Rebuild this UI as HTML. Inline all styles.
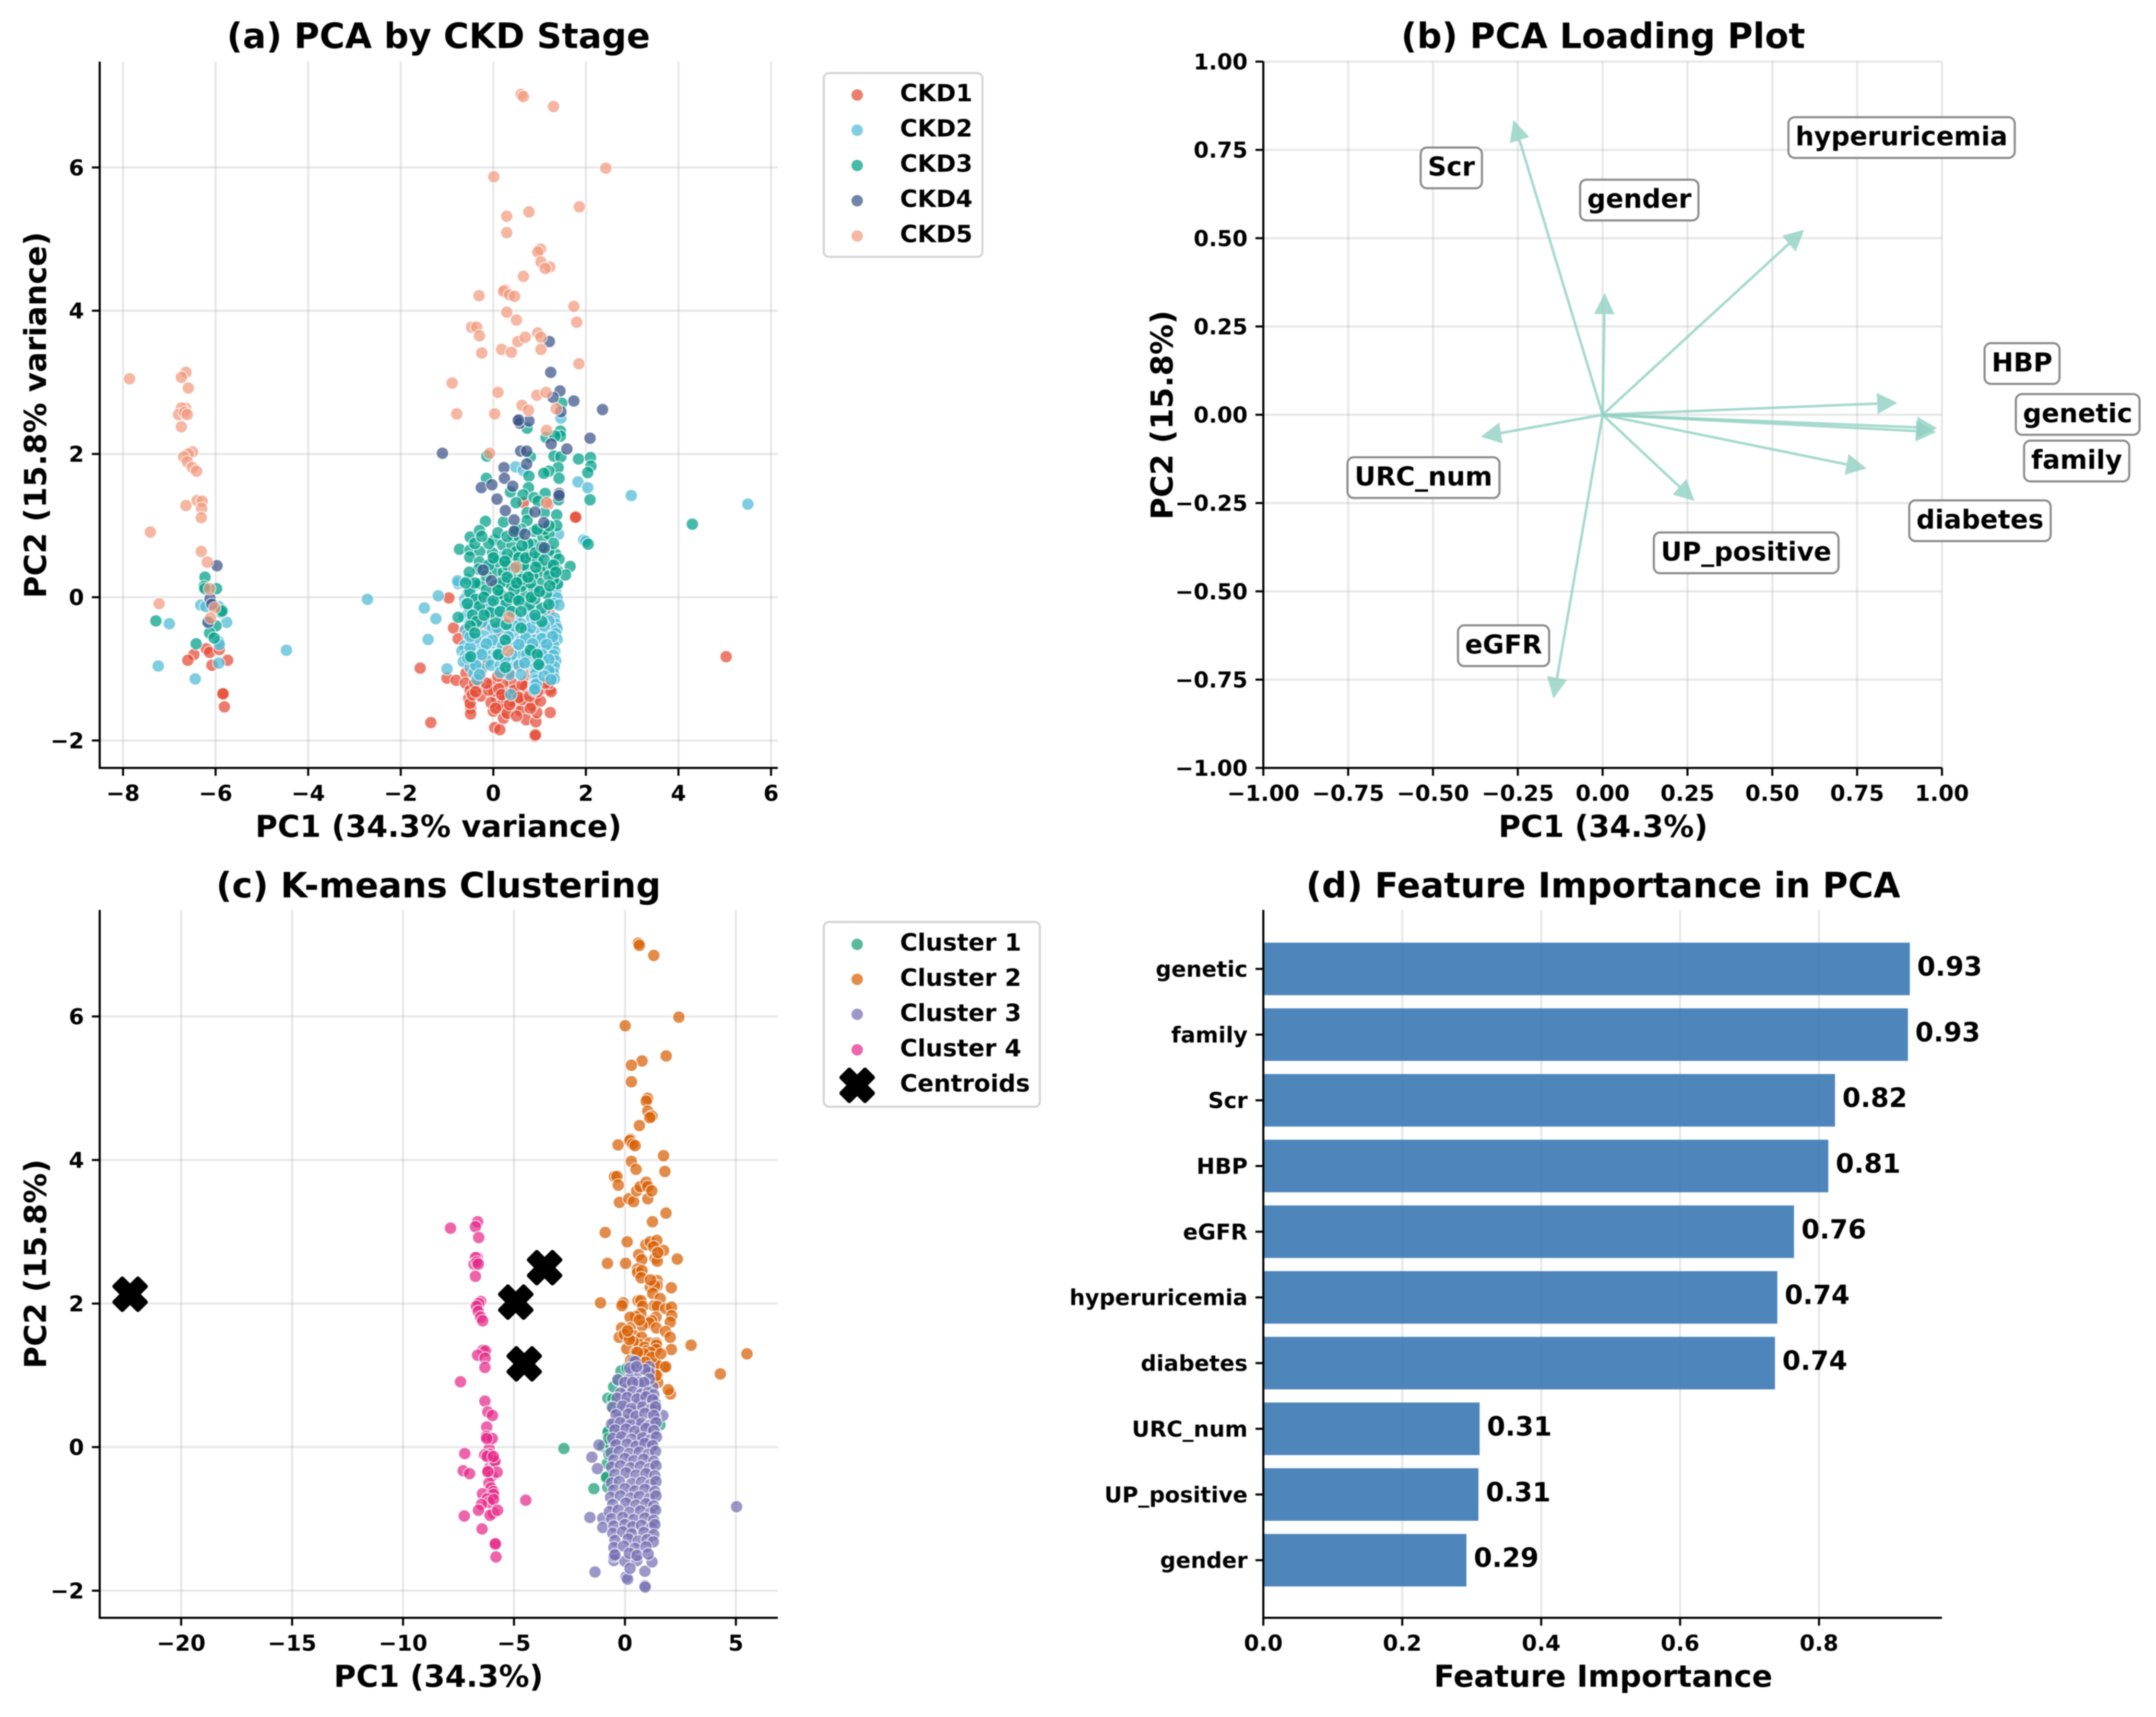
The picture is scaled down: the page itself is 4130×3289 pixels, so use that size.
<!DOCTYPE html>
<html lang="en">
<head>
<meta charset="utf-8">
<title>PCA analysis of CKD</title>
<style>
html,body{margin:0;padding:0;background:#fff;}
svg{display:block;filter:blur(1px);}
text{font-family:"DejaVu Sans","Liberation Sans",sans-serif;font-weight:700;fill:#000;}
.title{font-size:66.5px;text-anchor:middle;}
.axis-label{font-size:58.2px;text-anchor:middle;}
.tick{font-size:42px;}
.legend-text{font-size:45.8px;}
.legend-box{fill:#fff;stroke:#d4d4d4;stroke-width:4;}
.value{font-size:50.5px;}
.anno{font-size:50px;text-anchor:middle;}
</style>
</head>
<body>
<svg id="fig" xmlns="http://www.w3.org/2000/svg" width="4130" height="3289" viewBox="0 0 4130 3289">
<rect width="4130" height="3289" fill="#fff"/>
<g id="panelA"></g>
<g id="panelB"></g>
<g id="panelC"></g>
<g id="panelD"></g>

<text class="title" x="840" y="92">(a) PCA by CKD Stage</text>
<text class="axis-label" x="840" y="1603">PC1 (34.3% variance)</text>
<text class="axis-label" transform="translate(88,795) rotate(-90)">PC2 (15.8% variance)</text>

<text class="title" x="3071" y="92">(b) PCA Loading Plot</text>
<text class="axis-label" x="3071" y="1603">PC1 (34.3%)</text>
<text class="axis-label" transform="translate(2246,795) rotate(-90)">PC2 (15.8%)</text>

<text class="title" x="840" y="1719">(c) K-means Clustering</text>
<text class="axis-label" x="840" y="3231">PC1 (34.3%)</text>
<text class="axis-label" transform="translate(88,2421) rotate(-90)">PC2 (15.8%)</text>

<text class="title" x="3071" y="1719">(d) Feature Importance in PCA</text>
<text class="axis-label" x="3071" y="3231">Feature Importance</text>

<g>
<rect class="legend-box" x="1578" y="140" width="304" height="352" rx="10"/>
<g><circle cx="1642" cy="182" r="11" fill="#E64B35" opacity=".72"/><text class="legend-text" x="1724" y="194">CKD1</text></g>
<g><circle cx="1642" cy="249.500" r="11" fill="#4DBBD5" opacity=".72"/><text class="legend-text" x="1724" y="261.500">CKD2</text></g>
<g><circle cx="1642" cy="317" r="11" fill="#00A087" opacity=".72"/><text class="legend-text" x="1724" y="329">CKD3</text></g>
<g><circle cx="1642" cy="384.500" r="11" fill="#3C5488" opacity=".72"/><text class="legend-text" x="1724" y="396.500">CKD4</text></g>
<g><circle cx="1642" cy="452" r="11" fill="#F39B7F" opacity=".72"/><text class="legend-text" x="1724" y="464">CKD5</text></g>
</g>

<g>
<rect class="legend-box" x="1578" y="1766" width="414" height="354" rx="10"/>
<g><circle cx="1642" cy="1809" r="11" fill="#1B9E77" opacity=".72"/><text class="legend-text" x="1724" y="1821">Cluster 1</text></g>
<g><circle cx="1642" cy="1876" r="11" fill="#D95F02" opacity=".72"/><text class="legend-text" x="1724" y="1888.500">Cluster 2</text></g>
<g><circle cx="1642" cy="1943" r="11" fill="#7570B3" opacity=".72"/><text class="legend-text" x="1724" y="1956">Cluster 3</text></g>
<g><circle cx="1642" cy="2011" r="11" fill="#E7298A" opacity=".72"/><text class="legend-text" x="1724" y="2023.500">Cluster 4</text></g>
<g><polygon transform="translate(1642,2079)" points="-15,-30 0,-15 15,-30 30,-15 15,0 30,15 15,30 0,15 -15,30 -30,15 -15,0 -30,-15" fill="#000" stroke="#000" stroke-width="8" stroke-linejoin="round"/><text class="legend-text" x="1724" y="2091">Centroids</text></g>
</g>
</svg>

<script>
// ---------- Panel (a): PCA scores by CKD stage ----------
const aXTicks = [-8,-6,-4,-2,0,2,4,6];
const aYTicks = [-2,0,2,4,6];
const ckd1Points = [[-6.2,-.72],[-6.13,-.77],[-6.47,-.8],[-6.6,-.88],[-5.92,-.73],[-6.08,-.95],[-5.74,-.88],[-5.84,-1.34],[-5.84,-1.35],[-5.81,-1.53],
[5.03,-.83],[-.96,-.01],[1.77,1.11],[1.78,1.12],[-.86,-.43],[-.62,-.48],[-.76,-.58],[-1.58,-.99],[-1,-1.13],[-.8,-1.16],[-1.35,-1.75],[-.53,-1.41],[-.49,-1.55],[-.49,-1.63],[-.5,-1.48],[-.27,-1.38],[-.27,-1.06],[-.59,-1.06],[-.04,-1.21],[.07,-1.41],[.02,-1.31],[.2,-1.49],[.24,-1.57],[0,-1.59],[.22,-1.69],[.03,-1.82],[.14,-1.85],[.48,-1.53],[.6,-1.59],[.71,-1.71],[.92,-1.74],[.94,-1.61],[1.23,-1.61],[.9,-1.94],[.91,-1.92],[1.22,-1.29],[.9,-1.41],[.69,-1.41],[.56,-.96],[.56,-1.29],[.39,-1.19],[.2,-1.21],[-.17,-.92],[.73,-1.17],[1.27,-1.09],[.84,-1.51],[-.21,-.38],[.65,1.32],[1.18,1.3],[1.2,-.2],
[-.55,-.9],[-.6,-1.2],[-.5,-1.3],[-.3,-1.25],[-.1,-1.3],[.1,-1.1],[.3,-1.35],[.45,-1.3],[.7,-1.25],[.85,-1.3],[1.05,-1.28],[1.25,-1.32],[1.2,-1.2],[.15,-1.5],[.4,-1.45],[.62,-1.43],[.8,-1.55],[1.02,-1.45],[-.05,-1.47],[.3,-1.62],[.5,-1.66],[-.45,-1.36],[.1,-.5],[.35,-1.05],[.82,-1.05],[-.4,-1.2],[.98,-1.2],[.25,-1.4],[.12,-1.28],[.55,-1.4],[.78,-1.38],[.05,-1.55],[.35,-1.5],[-.38,-1.32],[.62,-1.22],[.95,-1.32],[1.12,-1.2],[-.15,-1.2],[.18,-1.36]];
const ckd2Points = [[-6.32,-.11],[-6.21,-.13],[-5.93,-.13],[-5.76,-.35],[-7,-.37],[-5.93,-.62],[-5.92,-.66],[-4.47,-.74],[-5.93,-.92],[-7.24,-.96],[-6.44,-1.14],[-6.18,-.34],
[-2.72,-.03],[5.5,1.3],[2.98,1.42],[1.83,1.61],[2.04,1.53],[1.95,.8],[2,.78],[.48,1.82],[.65,1.77],[1.46,2.5],[1.41,.88],[-1.19,.02],[-1.49,-.15],[-1.24,-.3],[-1.41,-.59],[-1,-1],[-.76,.19],[-.77,.23],[-.55,.25],[.18,.57],[-.06,.45],
[-.4,.16],[1.3,.14],[1.38,.17],[-.55,.06],[-.2,.03],[1.35,.07],[.95,.05],[-.62,-.03],[-.48,-.01],[-.3,-.02],[.05,-.04],[.55,-.01],[1.25,-.03],[1.38,-.01],
[-.6,-.1],[-.42,-.12],[-.05,-.09],[.2,-.11],[.62,-.1],[.9,-.12],[1.3,-.09],[1.42,-.11],[-.55,-.21],[-.3,-.19],[.02,-.2],[.35,-.22],[.75,-.19],[1.12,-.21],
[-.63,-.28],[-.45,-.3],[-.15,-.27],[.18,-.29],[.5,-.28],[.82,-.3],[1.05,-.27],[1.32,-.29],[-.5,-.36],[-.1,-.38],[.22,-.35],[.6,-.37],[.95,-.36],[1.35,-.38],
[-.6,-.45],[-.35,-.47],[-.02,-.44],[.3,-.46],[.7,-.45],[1,-.47],[1.38,-.44],[1.28,-.46],[-.55,-.52],[-.2,-.54],[.12,-.51],[.42,-.53],[.78,-.52],[1.12,-.54],[1.35,-.51],
[-.45,-.6],[-.1,-.62],[.25,-.59],[.6,-.61],[.9,-.6],[1.22,-.62],[1.38,-.59],[-.62,-.68],[-.3,-.7],[.05,-.67],[.38,-.69],[.68,-.68],[1,-.7],[1.3,-.67],
[-.68,-.75],[-.48,-.77],[-.2,-.74],[.15,-.76],[.5,-.75],[.82,-.77],[1.15,-.74],[1.33,-.76],[-.6,-.82],[-.35,-.84],[-.02,-.81],[.28,-.83],[.62,-.82],[.98,-.84],[1.3,-.81],
[-.65,-.9],[-.45,-.92],[-.12,-.89],[.42,-.91],[.75,-.9],[1.1,-.92],[1.35,-.89],[-.5,-.98],[-.25,-1],[.3,-.97],[.88,-.99],[.92,-.98],[1.28,-1],[1.32,-.97],
[-.42,-1.06],[.35,-1.08],[.9,-1.05],[.92,-1.07],[1.3,-1.06],[-.35,-1.15],[.9,-1.14],[.93,-1.16],[1.32,-1.14],[.88,-1.22],[.9,-1.23],[.93,-1.21],[.88,-1.3],[.9,-1.28],[.38,-1.36],
[-.52,-.15],[-.25,-.35],[.08,-.42],[.45,-.4],[.8,-.43],[1.2,-.33],[-.38,-.57],[-.02,-.6],[.32,-.55],[.7,-.57],[1.05,-.58],[1.28,-.55],[-.5,-.7],[-.15,-.65],[.2,-.68],[.55,-.66],[.85,-.65],[1.15,-.66],[-.55,-.85],[-.25,-.8],[.08,-.8],[.4,-.8],[.72,-.8],[1.05,-.8],[1.2,-.87],[-.38,-.95],[-.05,-.95],[.15,-.95],[.55,-.95],[1,-.95],[1.2,-1.02],[-.3,-1.08],[.15,-1.05],[.6,-1.08],[1.1,-1.1],[1.25,-1.15],[-.5,-.55],[.92,-.3],[.4,-.15],[.85,-.1],[.1,-.2],[-.1,-.15],[1.1,-.4],[.25,-.85],[.68,-.92]];
const ckd3Points = [[-6.23,.28],[-6.25,.15],[-5.98,.12],[-6.23,.12],[-5.88,-.21],[-5.86,-.19],[-5.99,-.4],[-6.13,-.5],[-6.03,-.57],[-6.42,-.65],[-7.29,-.33],[4.3,1.02],
[1.48,2.71],[.73,2.36],[1.45,2.32],[1.45,2.25],[1.14,2.23],[1.33,2.25],[1.31,1.97],[1.46,1.96],[1.84,1.93],[2.1,1.95],[-.14,1.97],[.8,1.96],[1.4,1.81],[1.2,1.76],[1.09,1.73],[2.11,1.83],[2.04,1.74],[.77,1.69],[1.42,1.66],[-.15,1.66],[.76,1.53],[.64,1.43],[1.12,1.45],[.37,1.47],[.49,1.32],[.88,1.39],[.97,1.34],[1.41,1.36],[2.09,1.36],[1.37,1.15],[.73,1.18],[1.1,1.18],[.73,1.07],[.22,1.05],[-.17,1.06],[1.37,1],
[-.73,.67],[-.5,.84],[-.3,.93],[-.5,.66],[-.29,.64],[-.02,.62],[-.51,.56],[-.3,.49],[-.32,.39],[-.52,.35],[.05,.36],[.22,.35],[.02,.8],[.2,.73],[.41,.72],[.43,.86],[.65,.62],[.39,.53],[.5,.64],[.86,.74],[.88,.92],[1.07,.84],[1.2,.88],[1.35,.6],[1.42,.53],[1.39,.37],[1.16,.39],[1.03,.41],[.95,.31],[.73,.39],[.58,.43],[.39,.25],[.24,.21],[.05,.17],[-.29,.19],[-.51,.07],[-.38,-.03],[-.56,-.09],[-.3,-.13],[-.45,-.25],[-.76,-.28],[-.36,-.34],[.05,-.35],[-.06,-.21],[.2,.01],[.39,.17],[.67,.15],[1.03,.19],[1.39,.19],[.88,.11],[.69,.01],[.48,-.03],[.28,-.09],[.77,-.11],[1.05,-.15],[1.05,-.34],[.6,-.43],[.28,-.38],[.11,-.8],[.26,-.6],[.8,-.74],[.95,-.8],[.26,-.98],[.98,-.94],[-.49,-.83],[1.66,.43],[2.05,.74],[1.56,.31],
[.1,.5],[.3,.45],[.55,.3],[.8,.55],[1,.6],[1.2,.65],[1.3,.25],[.85,.3],[.6,.15],[.15,.05],[.45,.1],[.9,-.02],[1.15,.05],[-.1,.45],[-.15,.1],[.75,.75],[1.1,.95],[.55,.85],[.3,.6],[.65,.45],[1.25,.45],[.95,.5],[.15,.2],[.55,.55],[1.3,.75],[1.2,.3],[.8,.2],
[-.1,.75],[.1,.9],[.3,.85],[.6,.95],[.95,.95],[1.2,1],[-.4,.75],[-.15,.3],[0,.55],[.25,.5],[.45,.4],[.7,.55],[.9,.62],[1.1,.52],[1.3,.45],[-.4,.2],[-.2,0],[0,-.05],[.1,.1],[.35,0],[.55,-.05],[.62,.25],[.82,0],[1,.08],[1.22,.16],[1.35,.35],[-.6,.2],[.3,.28],[.75,.28],[.92,.42],[.5,.2],[.15,-.2],[.4,-.2],[.6,-.2],[.9,-.25],[1.2,-.1],[-.2,-.25],[-.5,-.4],[-.4,-.5],[-.25,.85],[1.05,.7],[.62,.72],[.48,.95]];
const ckd4Points = [[-5.97,.44],[-6.12,-.02],[-6.08,-.1],[-6.16,-.35],
[1.21,3.57],[1.24,3.14],[1.44,2.88],[1.29,2.79],[1.74,2.74],[2.36,2.62],[.56,2.48],[.57,2.43],[.77,2.46],[.54,2.47],[1.46,2.59],[2.09,2.22],[1.25,2.14],[1.59,2.07],[-1.1,2.01],[.59,2.04],[.72,2.04],[.72,1.86],[.23,1.81],[.24,1.66],[.42,1.55],[-.26,1.53],[-.03,1.57],[.08,1.37],[1.42,1.45],[1.42,1.42],[.26,1.21],[.9,1.19],[.45,1.08],[1.09,1.04],[.45,.92],[.68,.88],[1.1,.69],[-.22,.38],[-.04,.23]];
const ckd5Points = [[-7.86,3.05],[-6.64,3.14],[-6.74,3.07],[-6.59,2.92],[-6.65,2.64],[-6.74,2.64],[-6.8,2.55],[-6.67,2.58],[-6.61,2.55],[-6.74,2.38],[-6.5,2.03],[-6.59,2],[-6.69,1.96],[-6.61,1.89],[-6.5,1.81],[-6.41,1.76],[-6.4,1.35],[-6.29,1.34],[-6.64,1.28],[-6.3,1.24],[-6.31,1.11],[-7.41,.91],[-6.31,.64],[-6.18,.49],[-6.13,.12],[-7.22,-.09],[-6.02,-.15],[-6.11,-.29],
[.6,7.02],[.65,6.99],[1.3,6.85],[2.43,5.99],[.01,5.87],[1.86,5.45],[.77,5.38],[.29,5.32],[.29,5.09],[1.02,4.86],[.96,4.82],[1.03,4.68],[1.22,4.61],[1.12,4.59],[.65,4.48],[.25,4.29],[.22,4.27],[.35,4.22],[.46,4.2],[-.31,4.21],[1.74,4.06],[.29,3.98],[.5,3.87],[1.8,3.84],
[-.47,3.77],[-.36,3.77],[-.3,3.65],[-.25,3.41],[.18,3.46],[.39,3.42],[.53,3.57],[.69,3.63],[.96,3.69],[1.03,3.63],[1.03,3.46],[1.85,3.26],[-.89,2.99],[.1,2.86],[.94,2.82],[1.14,2.86],[.62,2.68],[.76,2.61],[-.79,2.56],[.03,2.56],[1.36,2.63],[1.15,2.33],[-.08,2.01],[1.15,1.32],[.49,.42],[.34,-.28],[.32,-.75]];

// ---------- Panel (b): loading vectors ----------
const bTicks = [-1,-.75,-.5,-.25,0,.25,.5,.75,1];
const loadingFeatures = ['Scr','hyperuricemia','gender','HBP','genetic','family','diabetes','UP_positive','URC_num','eGFR'];
const loadingPC1 = [-.263,.594,.006,.869,.986,.983,.778,.271,-.359,-.145];
const loadingPC2 = [.835,.524,.345,.034,-.038,-.049,-.152,-.244,-.062,-.804];
const labelPC1 = [-.446,.881,.108,1.236,1.4,1.397,1.112,.423,-.528,-.292];
const labelPC2 = [.699,.785,.608,.145,.001,-.131,-.3,-.391,-.178,-.654];

// ---------- Panel (c): K-means clusters ----------
const cXTicks = [-20,-15,-10,-5,0,5];
const cYTicks = [-2,0,2,4,6];
const cluster1Points = [[-2.75,-.02],[-1.4,-.58],[-.18,1.06],[-.51,.84],[-.77,.68],[-.55,.67],[-.59,.56],[-.78,.19],[-.75,.22],[-.99,.01],[-.86,-.43],[-.77,-.56],[1.58,.31],[-.8,-.23],[-.7,.05],[-.72,-.1],[-.3,.93],[-.73,.12],[-.82,-.42],[.35,1.25],[.1,1.1]];
const cluster2Points = [[.6,7.02],[.65,6.99],[1.3,6.85],[2.43,5.99],[.01,5.87],[1.86,5.45],[.77,5.38],[.29,5.32],[.29,5.09],[1.02,4.86],[.96,4.82],[1.03,4.68],[1.22,4.61],[1.12,4.59],[.65,4.48],[.25,4.29],[.22,4.27],[.35,4.22],[.46,4.2],[-.31,4.21],[1.74,4.06],[.29,3.98],[.5,3.87],[1.8,3.84],[-.47,3.77],[-.36,3.77],[-.3,3.65],[-.25,3.41],[.18,3.46],[.39,3.42],[.53,3.57],[.69,3.63],[.96,3.69],[1.03,3.63],[1.03,3.46],[1.21,3.57],[1.85,3.26],[1.24,3.14],[-.89,2.99],[.1,2.86],[.94,2.82],[1.14,2.86],[1.44,2.88],[1.29,2.79],[1.74,2.74],[.62,2.68],[.76,2.61],[1.36,2.63],[1.46,2.59],[2.36,2.62],[-.79,2.56],[.03,2.56],[.56,2.48],[.57,2.43],[.77,2.46],[1.48,2.71],[.73,2.36],[1.45,2.32],[1.45,2.25],[1.14,2.23],[1.33,2.25],[1.15,2.33],[1.25,2.14],[2.09,2.22],[1.59,2.07],[-1.1,2.01],[-.08,2.01],[-.14,1.97],[.59,2.04],[.72,2.04],[1.31,1.97],[1.46,1.96],[1.84,1.93],[2.1,1.95],[.8,1.96],[.72,1.86],[1.4,1.81],[.48,1.82],[1.2,1.76],[1.09,1.73],[2.11,1.83],[2.04,1.74],[.77,1.69],[1.42,1.66],[.23,1.81],[.24,1.66],[-.15,1.66],[.65,1.77],[.42,1.55],[-.26,1.53],[-.03,1.57],[.76,1.53],[1.83,1.61],[2.04,1.53],[.64,1.43],[1.12,1.45],[.37,1.47],[1.42,1.45],[1.42,1.42],[.08,1.37],[.49,1.32],[.88,1.39],[.97,1.34],[1.41,1.36],[2.09,1.36],[1.15,1.32],[.26,1.21],[1.77,1.11],[1.37,1.15],[.73,1.18],[1.1,1.18],[.9,1.19],[1.44,1.15],[2.98,1.42],[5.5,1.3],[4.3,1.02],[2.05,.74],[1.95,.8],[1.46,1],[1.48,.9],[1.09,1.04],[.85,1.3],[1.21,1.25],[.93,1.18],[.56,1.32],[1.4,1],[1.84,1.12],[1.62,1.3],[.2,1.5],[.12,1.62]];
const cluster3Points = [[5.03,-.83],[-1.35,-1.74],[-1.58,-.98],[-1,-.99],[-1,-1.12],[-1.49,-.14],[-1.24,-.3],[-1.17,.03],[.05,-1.81],[.12,-1.84],[.9,-1.93],[.91,-1.95],[.9,-1.73],[-.5,-1.58],[-.5,-1.52],[0,-1.59],[.54,-1.58],[1.22,-1.6],[.23,-1.69],[1.71,.44],[-.32,.94],
[.38,1.2],[.46,1.19],[1.09,1.12],[1.09,1.04],[.31,1.06],[.05,.81],[.7,.85],[1.25,.84],[-.05,.62],[.66,.63],[1.36,.62],[1.36,.53],[.34,.5],[.07,.37],[.62,.37],[-.32,.5],[-.48,.34],[1.36,.4],[-.24,.2],[.7,.18],[1.36,.2],[-.48,.06],[.66,.06],[1.21,.01],
[.4,1.1],[.5,1],[.2,.95],[.9,1.08],[1.1,.95],[0,.9],[.6,.9],[.85,.9],[.35,.9],[.22,1.1],[.52,1.12],
[-.2,.75],[.35,.77],[.75,.74],[1.05,.76],[1.3,.73],[-.35,.68],[.1,.69],[.55,.67],[.95,.7],[1.25,.66],[-.55,.55],[-.1,.57],[.3,.54],[.8,.56],[1.2,.53],[1.38,.56],[-.4,.45],[.15,.46],[.5,.43],[.9,.47],[1.3,.44],[-.6,.32],[-.2,.34],[.25,.31],[.75,.33],[1.1,.3],[1.4,.34],[-.45,.24],[.05,.25],[.45,.22],[.95,.26],[1.3,.23],[-.55,.12],[-.15,.14],[.3,.11],[.8,.13],[1.15,.1],[1.42,.14],[-.4,.03],[.1,.04],[.5,.01],[.9,.05],[1.25,.02],
[-.62,-.08],[-.25,-.06],[.2,-.09],[.65,-.07],[1.05,-.1],[1.38,-.06],[-.5,-.18],[0,-.16],[.4,-.19],[.85,-.17],[1.3,-.2],[-.6,-.28],[-.2,-.26],[.25,-.29],[.7,-.27],[1.1,-.3],[1.4,-.26],[-.45,-.38],[.05,-.36],[.5,-.39],[.95,-.37],[1.35,-.4],[-.6,-.5],[-.25,-.48],[.3,-.51],[.75,-.49],[1.15,-.52],[1.4,-.48],[-.5,-.6],[0,-.58],[.45,-.61],[.9,-.59],[1.35,-.62],[-.65,-.7],[-.2,-.68],[.25,-.71],[.65,-.69],[1.1,-.72],[1.4,-.68],[-.55,-.8],[.05,-.78],[.5,-.81],[.95,-.79],[1.3,-.82],[-.7,-.9],[-.3,-.88],[.2,-.91],[.7,-.89],[1.15,-.92],[1.38,-.88],[-.6,-1],[-.1,-.98],[.4,-1.01],[.9,-.99],[1.3,-1.02],[-.5,-1.1],[0,-1.08],[.35,-1.11],[.75,-1.09],[1.2,-1.12],[1.35,-1.08],[-.55,-1.2],[-.1,-1.18],[.3,-1.21],[.85,-1.19],[1.3,-1.22],[-.45,-1.3],[.15,-1.28],[.6,-1.31],[1,-1.29],[1.28,-1.32],[-.5,-1.4],[-.05,-1.38],[.45,-1.41],[.95,-1.39],[-.45,-1.5],[.2,-1.48],[.55,-1.51],[1.05,-1.49]];
const cluster4Points = [[-7.86,3.05],[-6.64,3.14],[-6.74,3.07],[-6.59,2.92],[-6.65,2.64],[-6.74,2.64],[-6.8,2.55],[-6.67,2.58],[-6.61,2.55],[-6.74,2.38],[-6.5,2.03],[-6.59,2],[-6.69,1.96],[-6.61,1.89],[-6.5,1.81],[-6.41,1.76],[-6.4,1.35],[-6.29,1.34],[-6.64,1.28],[-6.3,1.24],[-6.31,1.11],[-7.41,.91],[-6.31,.64],[-6.18,.49],[-6.13,.12],[-7.22,-.09],[-6.02,-.15],[-6.11,-.29],
[-5.97,.44],[-6.12,-.02],[-6.08,-.1],[-6.16,-.35],[-6.23,.28],[-6.25,.15],[-5.98,.12],[-6.23,.12],[-5.88,-.21],[-5.86,-.19],[-5.99,-.4],[-6.13,-.5],[-6.03,-.57],[-6.42,-.65],[-7.29,-.33],
[-6.32,-.11],[-6.21,-.13],[-5.93,-.13],[-5.76,-.35],[-7,-.37],[-5.93,-.62],[-5.92,-.66],[-4.47,-.74],[-5.93,-.92],[-7.24,-.96],[-6.44,-1.14],[-6.18,-.34],
[-6.2,-.72],[-6.13,-.77],[-6.47,-.8],[-6.6,-.88],[-5.92,-.73],[-6.08,-.95],[-5.74,-.88],[-5.84,-1.34],[-5.84,-1.35],[-5.81,-1.53]];
const centroidPC1 = [-22.3,-3.62,-4.92,-4.54];
const centroidPC2 = [2.13,2.5,2.02,1.16];

// ---------- Panel (d): feature importance ----------
const importanceFeatures = ['genetic','family','Scr','HBP','eGFR','hyperuricemia','diabetes','URC_num','UP_positive','gender'];
const importanceValues = [.9307,.928,.823,.8134,.764,.74,.7366,.3114,.3097,.2924];
const dXTicks = [0,.2,.4,.6,.8];

// ---------- Helpers ----------
const NS = 'http://www.w3.org/2000/svg';
function mk(tag, parent){
  const e = document.createElementNS(NS, tag);
  parent.appendChild(e);
  return e;
}
function sx(p, v){ return p.left + (v - p.xMin) / (p.xMax - p.xMin) * (p.right - p.left); }
function sy(p, v){ return p.bottom - (v - p.yMin) / (p.yMax - p.yMin) * (p.bottom - p.top); }
function minus(s){ return String(s).replace('-', '\u2212'); }

const frameA = {left:191,right:1490,top:118,bottom:1471,xMin:-8.504,xMax:6.147,yMin:-2.383,yMax:7.478};
const frameB = {left:2420,right:3720,top:118,bottom:1471,xMin:-1,xMax:1,yMin:-1,yMax:1};
const frameC = {left:191,right:1490,top:1743,bottom:3099,xMin:-23.67,xMax:6.89,yMin:-2.378,yMax:7.484};
const frameD = {left:2420,right:3720,top:1743,bottom:3099,xMin:0,xMax:.977,yMin:9.877,yMax:-.898};

function drawGrid(parent, p, xt, yt){
  xt.forEach(function(t){
    const l = mk('line', parent);
    
    
    l.setAttribute('x1', sx(p,t)); l.setAttribute('x2', sx(p,t));
    l.setAttribute('y1', p.top); l.setAttribute('y2', p.bottom);
    l.setAttribute('stroke', '#b0b0b0'); l.setAttribute('stroke-opacity', '.3'); l.setAttribute('stroke-width', '4');
  });
  yt.forEach(function(t){
    const l = mk('line', parent);
    
    
    l.setAttribute('x1', p.left); l.setAttribute('x2', p.right);
    l.setAttribute('y1', sy(p,t)); l.setAttribute('y2', sy(p,t));
    l.setAttribute('stroke', '#b0b0b0'); l.setAttribute('stroke-opacity', '.3'); l.setAttribute('stroke-width', '4');
  });
}
function drawAxes(parent, p, xt, yt, fx, fy){
  const s1 = mk('line', parent);
  
  
  s1.setAttribute('x1', p.left); s1.setAttribute('x2', p.left); s1.setAttribute('y1', p.top); s1.setAttribute('y2', p.bottom + 2);
  s1.setAttribute('stroke', '#000'); s1.setAttribute('stroke-width', '4');
  const s2 = mk('line', parent);
  
  
  s2.setAttribute('x1', p.left - 2); s2.setAttribute('x2', p.right); s2.setAttribute('y1', p.bottom); s2.setAttribute('y2', p.bottom);
  s2.setAttribute('stroke', '#000'); s2.setAttribute('stroke-width', '4');
  xt.forEach(function(t){
    const m = mk('line', parent);
    
    
    m.setAttribute('x1', sx(p,t)); m.setAttribute('x2', sx(p,t)); m.setAttribute('y1', p.bottom); m.setAttribute('y2', p.bottom + 15);
    m.setAttribute('stroke', '#000'); m.setAttribute('stroke-width', '4');
    const l = mk('text', parent);
    
    
    l.setAttribute('class', 'tick'); l.setAttribute('text-anchor', 'middle');
    l.setAttribute('x', sx(p,t)); l.setAttribute('y', p.bottom + 63);
    l.textContent = minus(fx(t));
  });
  yt.forEach(function(t, i){
    const m = mk('line', parent);
    
    
    m.setAttribute('x1', p.left - 15); m.setAttribute('x2', p.left); m.setAttribute('y1', sy(p,t)); m.setAttribute('y2', sy(p,t));
    m.setAttribute('stroke', '#000'); m.setAttribute('stroke-width', '4');
    const l = mk('text', parent);
    
    
    l.setAttribute('class', 'tick'); l.setAttribute('text-anchor', 'end');
    l.setAttribute('x', p.left - 30); l.setAttribute('y', sy(p,t) + 15);
    l.textContent = minus(fy(t, i));
  });
}
function drawPoints(parent, p, pts, color, name){
  const g = mk('g', parent);
  
  
  pts.forEach(function(pt){
    const c = mk('circle', g);
    
    
    c.setAttribute('cx', sx(p, pt[0])); c.setAttribute('cy', sy(p, pt[1]));
    c.setAttribute('r', '12');
    c.setAttribute('fill', color); c.setAttribute('stroke', '#fff'); c.setAttribute('stroke-width', '2');
    c.setAttribute('opacity', '.72');
  });
}

// ---------- Draw (a) ----------
const ga = document.getElementById('panelA');
drawGrid(ga, frameA, aXTicks, aYTicks);
drawPoints(ga, frameA, ckd1Points, '#E64B35', 'ckd1');
drawPoints(ga, frameA, ckd2Points, '#4DBBD5', 'ckd2');
drawPoints(ga, frameA, ckd3Points, '#00A087', 'ckd3');
drawPoints(ga, frameA, ckd4Points, '#3C5488', 'ckd4');
drawPoints(ga, frameA, ckd5Points, '#F39B7F', 'ckd5');
drawAxes(ga, frameA, aXTicks, aYTicks, String, String);

// ---------- Draw (b) ----------
const gb = document.getElementById('panelB');
drawGrid(gb, frameB, bTicks, bTicks);
loadingFeatures.forEach(function(name, i){
  const tx = loadingPC1[i], ty = loadingPC2[i];
  const len = Math.hypot(tx, ty) || 1;
  const ux = tx / len, uy = ty / len, hl = .06, hw = .03;
  const bx = tx - ux * hl, by = ty - uy * hl;
  const arrow = mk('g', gb);
  
  
  arrow.setAttribute('opacity', '.8');
  const l = mk('line', arrow);
  
  
  l.setAttribute('x1', sx(frameB,0)); l.setAttribute('y1', sy(frameB,0));
  l.setAttribute('x2', sx(frameB,bx)); l.setAttribute('y2', sy(frameB,by));
  l.setAttribute('stroke', '#91D1C2'); l.setAttribute('stroke-width', '5');
  const h = mk('polygon', arrow);
  
  
  h.setAttribute('fill', '#91D1C2');
  h.setAttribute('points', [
    [tx, ty], [bx - uy * hw, by + ux * hw], [bx + uy * hw, by - ux * hw]
  ].map(function(q){ return sx(frameB,q[0]) + ',' + sy(frameB,q[1]); }).join(' '));
});
loadingFeatures.forEach(function(name, i){
  const g = mk('g', gb);
  
  
  const r = mk('rect', g);
  
  
  const t = mk('text', g);
  
  
  t.setAttribute('class', 'anno');
  const cx = sx(frameB, labelPC1[i]), cy = sy(frameB, labelPC2[i]);
  t.setAttribute('x', cx); t.setAttribute('y', cy + 15);
  t.textContent = name;
  const w = t.getComputedTextLength() + 27;
  r.setAttribute('x', cx - w / 2); r.setAttribute('y', cy - 39);
  r.setAttribute('width', w); r.setAttribute('height', 78); r.setAttribute('rx', '12');
  r.setAttribute('fill', '#fff'); r.setAttribute('fill-opacity', '.85');
  r.setAttribute('stroke', '#8a8a8a'); r.setAttribute('stroke-width', '4');
});
drawAxes(gb, frameB, bTicks, bTicks, function(t){ return t.toFixed(2); }, function(t){ return t.toFixed(2); });

// ---------- Draw (c) ----------
const gc = document.getElementById('panelC');
drawGrid(gc, frameC, cXTicks, cYTicks);
drawPoints(gc, frameC, cluster1Points, '#1B9E77', 'cluster-1');
drawPoints(gc, frameC, cluster2Points, '#D95F02', 'cluster-2');
drawPoints(gc, frameC, cluster3Points, '#7570B3', 'cluster-3');
drawPoints(gc, frameC, cluster4Points, '#E7298A', 'cluster-4');
centroidPC1.forEach(function(v, i){
  const m = mk('polygon', gc);
  
  
  m.setAttribute('points', '-15,-30 0,-15 15,-30 30,-15 15,0 30,15 15,30 0,15 -15,30 -30,15 -15,0 -30,-15');
  m.setAttribute('transform', 'translate(' + sx(frameC, v) + ',' + sy(frameC, centroidPC2[i]) + ')');
  m.setAttribute('fill', '#000'); m.setAttribute('stroke', '#000'); m.setAttribute('stroke-width', '8'); m.setAttribute('stroke-linejoin', 'round');
});
drawAxes(gc, frameC, cXTicks, cYTicks, String, String);

// ---------- Draw (d) ----------
const gd = document.getElementById('panelD');
drawGrid(gd, frameD, dXTicks, []);
importanceFeatures.forEach(function(name, i){
  const top = sy(frameD, i - .4), bot = sy(frameD, i + .4);
  const b = mk('rect', gd);
  
  
  b.setAttribute('x', sx(frameD, 0)); b.setAttribute('y', Math.min(top, bot));
  b.setAttribute('width', sx(frameD, importanceValues[i]) - sx(frameD, 0));
  b.setAttribute('height', Math.abs(bot - top));
  b.setAttribute('fill', '#3D7AB5'); b.setAttribute('opacity', '.91');
  const v = mk('text', gd);
  
  
  v.setAttribute('class', 'value');
  v.setAttribute('x', sx(frameD, importanceValues[i]) + 14);
  v.setAttribute('y', sy(frameD, i) + 13);
  v.textContent = importanceValues[i].toFixed(2);
});
drawAxes(gd, frameD, dXTicks, importanceFeatures.map(function(n, i){ return i; }), function(t){ return t.toFixed(1); }, function(t, i){ return importanceFeatures[i]; });
</script>
</body>
</html>
